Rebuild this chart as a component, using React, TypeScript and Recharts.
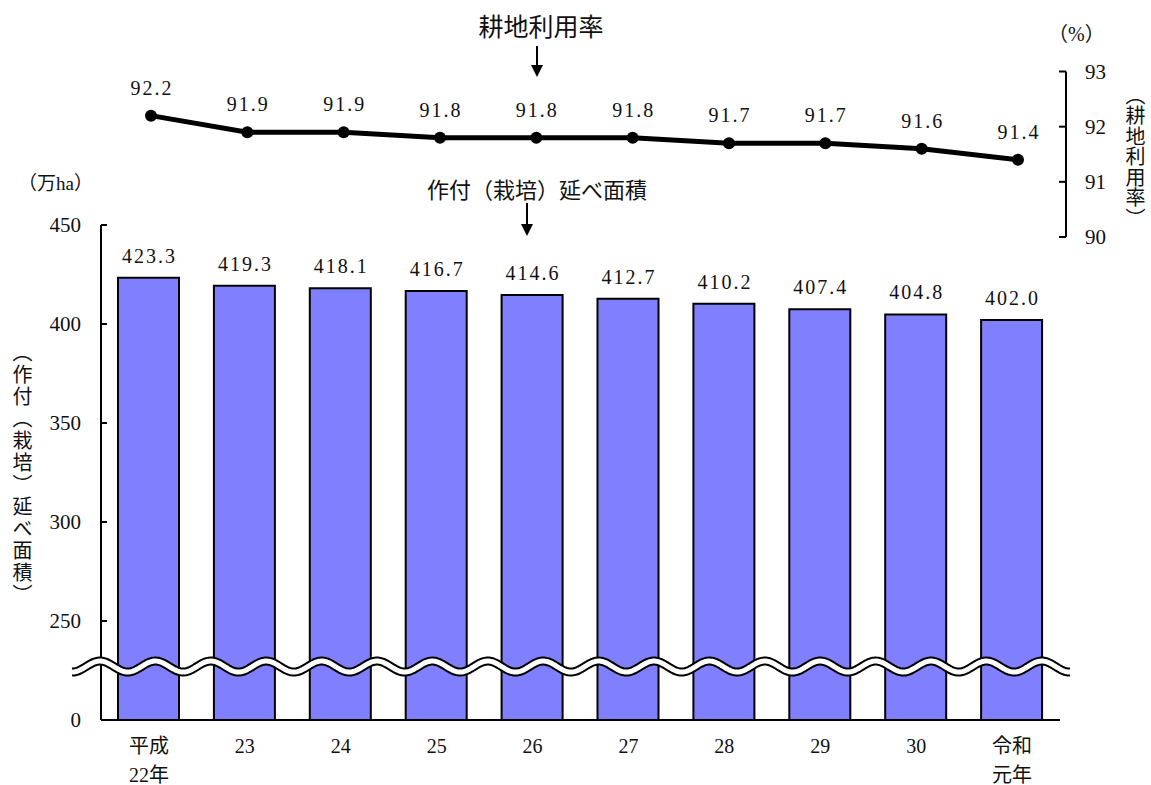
import React from 'react';
import {
  BarChart, Bar, XAxis, YAxis, LineChart, Line, LabelList, ReferenceLine,
} from 'recharts';

const categories = ['平成\n22年', '23', '24', '25', '26', '27', '28', '29', '30', '令和\n元年'];
const plantedArea = [423.3, 419.3, 418.1, 416.7, 414.6, 412.7, 410.2, 407.4, 404.8, 402.0];
const utilizationRate = [92.2, 91.9, 91.9, 91.8, 91.8, 91.8, 91.7, 91.7, 91.6, 91.4];
const areaTicks = [200, 250, 300, 350, 400, 450];
const rateTicks = [90, 91, 92, 93];

const barData = categories.map((c, i) => ({ name: c, area: plantedArea[i] }));
const lineData = categories.map((c, i) => ({ name: c, rate: utilizationRate[i] }));

const NUM_FONT = "'Liberation Serif', 'Noto Sans CJK JP', serif";
const CJK_FONT = "'Noto Sans CJK JP', sans-serif";

const LeftTick = (props: any) => {
  const { x, y, payload } = props;
  const label = payload.value === 200 ? '0' : String(payload.value);
  return (
    <g>
      <line x1={x} y1={y} x2={x + 6} y2={y} stroke="#000" strokeWidth={2} />
      <text x={x - 20} y={y} dy="0.34em" textAnchor="end" fontFamily={NUM_FONT} fontSize={21} fill="#111">
        {label}
      </text>
    </g>
  );
};

const RightTick = (props: any) => {
  const { x, y, payload } = props;
  return (
    <g>
      <line x1={x - 7} y1={y} x2={x} y2={y} stroke="#000" strokeWidth={2} />
      <text x={x + 19} y={y} dy="0.34em" textAnchor="start" fontFamily={NUM_FONT} fontSize={21} fill="#111">
        {payload.value}
      </text>
    </g>
  );
};

const CategoryTick = (props: any) => {
  const { x, y, payload } = props;
  const lines = String(payload.value).split('\n');
  return (
    <g>
      {lines.map((ln: string, i: number) => (
        <text key={i} x={x} y={y + 33 + i * 29} textAnchor="middle" fontFamily={NUM_FONT} fontSize={20} fill="#111">
          {ln}
        </text>
      ))}
    </g>
  );
};

const BarValueLabel = (props: any) => {
  const { x, y, width, value } = props;
  return (
    <text x={x + width / 2 + 1} y={y - 15} textAnchor="middle" fontFamily={NUM_FONT} fontSize={20} letterSpacing={2} fill="#111">
      {Number(value).toFixed(1)}
    </text>
  );
};

const LineValueLabel = (props: any) => {
  const { x, y, value } = props;
  return (
    <text x={x + 1} y={y - 21} textAnchor="middle" fontFamily={NUM_FONT} fontSize={20} letterSpacing={2} fill="#111">
      {Number(value).toFixed(1)}
    </text>
  );
};

const WaveBreak = (props: any) => {
  const { x1, x2, y1 } = props;
  const start = x1 - 29;
  const end = x2 + 10;
  const period = 55.4;
  const amp = 5.5;
  const pts: string[] = [];
  for (let px = start; px <= end; px += 1) {
    const py = y1 - amp * Math.cos((2 * Math.PI * (px - (x1 - 1))) / period);
    pts.push(`${px.toFixed(1)},${py.toFixed(2)}`);
  }
  const d = 'M' + pts.join(' L');
  return (
    <g>
      <path d={d} fill="none" stroke="#000" strokeWidth={9} />
      <path d={d} fill="none" stroke="#fff" strokeWidth={5} />
    </g>
  );
};

const Arrow = ({ x, y1, y2 }: { x: number; y1: number; y2: number }) => (
  <g>
    <line x1={x} y1={y1} x2={x} y2={y2 - 10} stroke="#000" strokeWidth={2} />
    <polygon points={`${x - 6},${y2 - 12} ${x + 6},${y2 - 12} ${x},${y2}`} fill="#000" />
  </g>
);

export default function App() {
  return (
    <div style={{ position: 'absolute', left: 0, top: 0, width: 1151, height: 785, background: '#fff' }}>
      <div style={{ position: 'absolute', left: 0, top: 0 }}>
        <BarChart
          width={1151}
          height={785}
          data={barData}
          margin={{ top: 225, right: 91, left: 0, bottom: 0 }}
        >
          <XAxis
            dataKey="name"
            height={65}
            tickLine={false}
            tickSize={0}
            tickMargin={0}
            axisLine={{ stroke: '#000', strokeWidth: 2 }}
            tick={<CategoryTick />}
            interval={0}
          />
          <YAxis
            width={101}
            domain={[200, 450]}
            ticks={areaTicks}
            allowDataOverflow
            tickLine={false}
            tickSize={0}
            tickMargin={0}
            axisLine={{ stroke: '#000', strokeWidth: 2 }}
            tick={<LeftTick />}
            interval={0}
          />
          <Bar dataKey="area" fill="#8080FF" stroke="#000" strokeWidth={2} barSize={61} isAnimationActive={false}>
            <LabelList dataKey="area" content={<BarValueLabel />} />
          </Bar>
          <ReferenceLine y={227} shape={(p: any) => <WaveBreak {...p} />} zIndex={2000} />
        </BarChart>
      </div>
      <div style={{ position: 'absolute', left: 0, top: 0 }}>
        <LineChart
          width={1151}
          height={260}
          data={lineData}
          margin={{ top: 71.5, right: 0, left: 103, bottom: 23 }}
        >
          <XAxis dataKey="name" hide padding={{ left: 48, right: 48 }} />
          <YAxis
            yAxisId="r"
            orientation="right"
            width={85}
            domain={[90, 93]}
            ticks={rateTicks}
            tickLine={false}
            tickSize={0}
            tickMargin={0}
            axisLine={{ stroke: '#000', strokeWidth: 2 }}
            tick={<RightTick />}
            interval={0}
          />
          <Line
            yAxisId="r"
            dataKey="rate"
            stroke="#000"
            strokeWidth={5}
            dot={{ r: 6, fill: '#000', stroke: '#000', strokeWidth: 0 }}
            isAnimationActive={false}
          >
            <LabelList dataKey="rate" content={<LineValueLabel />} />
          </Line>
        </LineChart>
      </div>
      <svg width={1151} height={785} style={{ position: 'absolute', left: 0, top: 0, pointerEvents: 'none' }}>
        <text x={541} y={36} textAnchor="middle" fontFamily={CJK_FONT} fontSize={25} fill="#111">耕地利用率</text>
        <Arrow x={537} y1={46} y2={77} />
        <text x={537} y={198} textAnchor="middle" fontFamily={CJK_FONT} fontSize={22} fill="#111">作付（栽培）延べ面積</text>
        <Arrow x={527} y1={203} y2={236} />
        <text x={18} y={190} textAnchor="start" fontFamily={NUM_FONT} fontSize={19} fill="#111">（万ha）</text>
        <text x={1048} y={41} textAnchor="start" fontFamily={NUM_FONT} fontSize={20} fill="#111">（%）</text>
      </svg>
      <div
        style={{
          position: 'absolute', left: 11, top: 342, writingMode: 'vertical-rl',
          fontFamily: CJK_FONT, fontSize: 20, letterSpacing: 2, lineHeight: '22px', color: '#111',
        }}
      >
        （作付（栽培）延べ面積）
      </div>
      <div
        style={{
          position: 'absolute', left: 1124, top: 85, writingMode: 'vertical-rl',
          fontFamily: CJK_FONT, fontSize: 20, letterSpacing: 0.5, lineHeight: '22px', color: '#111',
        }}
      >
        （耕地利用率）
      </div>
    </div>
  );
}
